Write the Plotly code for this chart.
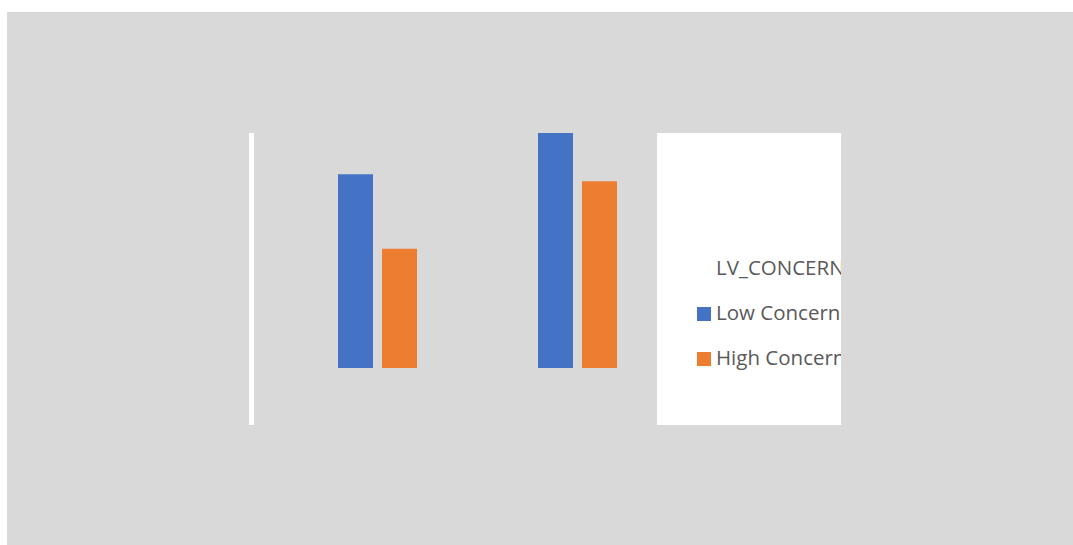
import plotly.graph_objects as go

categories = ["Group A", "Group B"]
low_concern = [33, 40]
high_concern = [20.3, 31.8]
series_names = ["Low Concern", "High Concern"]
legend_title = "LV_CONCERN"

BLUE = "#4472c4"
ORANGE = "#ed7d31"
GREY = "#d9d9d9"
TEXT = "#595959"

W, H = 1073, 545
L, R, T, B = 254, 841, 133, 425
SPLIT = 657  # legend box starts here


def px(x):
    return (x - L) / (R - L)


def py(y):
    return (B - y) / (B - T)


fig = go.Figure()
fig.add_trace(go.Bar(x=categories, y=low_concern, name=series_names[0],
                     marker=dict(color=BLUE, line=dict(width=0)),
                     width=0.175, offset=-0.1975, showlegend=False,
                     xaxis="x", yaxis="y"))
fig.add_trace(go.Bar(x=categories, y=high_concern, name=series_names[1],
                     marker=dict(color=ORANGE, line=dict(width=0)),
                     width=0.175, offset=0.0225, showlegend=False,
                     xaxis="x", yaxis="y"))

# legend drawn in its own clipped panel
fig.add_trace(go.Scatter(
    x=[716, 716, 716], y=[270, 315, 360],
    text=[legend_title] + series_names,
    mode="text", textposition="middle right",
    textfont=dict(family="Open Sans, sans-serif", size=20.5, color=TEXT),
    cliponaxis=True, showlegend=False, hoverinfo="skip",
    xaxis="x2", yaxis="y2"))
fig.add_trace(go.Scatter(
    x=[704, 704], y=[314, 359], mode="markers",
    marker=dict(symbol="square", size=14, color=[BLUE, ORANGE], line=dict(width=0)),
    showlegend=False, hoverinfo="skip", xaxis="x2", yaxis="y2"))

shapes = [
    dict(type="rect", xref="paper", yref="paper", x0=px(7), x1=px(1073), y0=py(12), y1=py(545),
         fillcolor=GREY, line=dict(width=0), layer="below"),
    dict(type="rect", xref="paper", yref="paper", x0=px(SPLIT), x1=px(841), y0=py(133), y1=py(425),
         fillcolor="white", line=dict(width=0), layer="below"),
]

fig.update_layout(
    width=W, height=H,
    margin=dict(l=L, r=W - R, t=T, b=H - B, pad=0),
    paper_bgcolor="white",
    plot_bgcolor="rgba(0,0,0,0)",
    barmode="group",
    shapes=shapes,
    xaxis=dict(type="category", domain=[0, px(SPLIT)], range=[-0.6175, 1.3975],
               showticklabels=False, showgrid=False, zeroline=False, showline=False, ticks=""),
    yaxis=dict(range=[-9.70, 40], showticklabels=False, showgrid=False, zeroline=False,
               showline=True, linecolor="white", linewidth=5, ticks=""),
    xaxis2=dict(domain=[px(SPLIT), 1], range=[SPLIT, 841], anchor="y2", visible=False,
                fixedrange=True),
    yaxis2=dict(domain=[0, 1], range=[425, 133], anchor="x2", visible=False,
                fixedrange=True),
)

fig.write_html("out.html")
